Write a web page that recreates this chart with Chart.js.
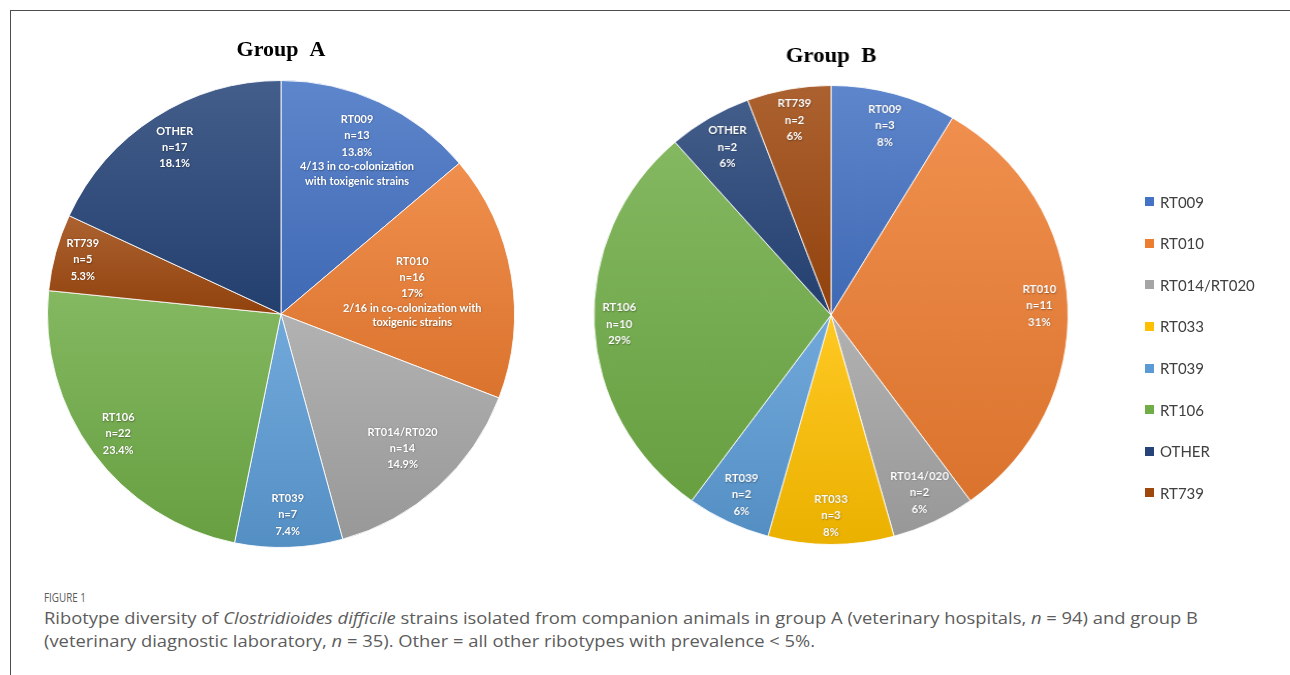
<!DOCTYPE html>
<html>
<head>
<meta charset="utf-8">
<title>Ribotype diversity</title>
<script src="https://cdn.jsdelivr.net/npm/chart.js@4.4.0/dist/chart.umd.min.js"></script>
<style>
    html, body { margin: 0; padding: 0; background: #fff; }
    body { width: 1290px; height: 675px; position: relative; overflow: hidden; font-family: Lato, sans-serif; }
    .frame { position: absolute; left: 10px; top: 10px; width: 1300px; height: 700px; border-left: 1px solid #4d4d4d; border-top: 1px solid #4d4d4d; }
    .chart-box { position: absolute; }
    #boxA { left: 31px; top: 26px; width: 500px; height: 522px; }
    /* the group B pie is a touch wider than tall in the figure */
    #boxB { left: 527px; top: 32px; width: 608px; height: 513px; transform: scaleX(1.033); transform-origin: 304px 50%; }
    #legend { position: absolute; left: 1145px; top: 181px; }
    .legend-item { height: 41.57px; display: flex; align-items: center; font-size: 15px; color: #404040; white-space: nowrap; }
    .legend-item span.sw { width: 9px; height: 9px; margin-right: 6px; display: inline-block; }
    .fig-label { position: absolute; left: 44px; top: 589px; font-family: "Open Sans", sans-serif; font-size: 12px; color: #5c5c5c; white-space: nowrap; transform-origin: left center; }
    .caption { position: absolute; left: 44px; top: 606px; font-family: "Open Sans", sans-serif; font-size: 17px; line-height: 23px; color: #5c5c5c; }
    .caption span { display: inline-block; white-space: nowrap; transform-origin: left center; }
</style>
</head>
<body>
<div class="frame"></div>
<div class="chart-box" id="boxA"><canvas id="chartA"></canvas></div>
<div class="chart-box" id="boxB"><canvas id="chartB"></canvas></div>
<div id="legend"></div>
<div class="fig-label" id="figLabel">FIGURE 1</div>
<div class="caption">
    <span id="cap1">Ribotype diversity of <i>Clostridioides difficile</i> strains isolated from companion animals in group A (veterinary hospitals, <i>n</i> = 94) and group B</span><br>
    <span id="cap2">(veterinary diagnostic laboratory, <i>n</i> = 35). Other = all other ribotypes with prevalence &lt; 5%.</span>
</div>
<script>
// ============================================
// DATA
// ============================================

// legend order (all ribotypes)
const legendLabels = ['RT009', 'RT010', 'RT014/RT020', 'RT033', 'RT039', 'RT106', 'OTHER', 'RT739'];

// Group A - veterinary hospitals (n = 94), clockwise from 12 o'clock
const groupALabels = ['RT009', 'RT010', 'RT014/RT020', 'RT039', 'RT106', 'RT739', 'OTHER'];
const groupACounts = [13, 16, 14, 7, 22, 5, 17];
const groupAPercents = ['13.8%', '17%', '14.9%', '7.4%', '23.4%', '5.3%', '18.1%'];
const groupANotes = [
    ['4/13 in co-colonization', 'with toxigenic strains'],
    ['2/16 in co-colonization with', 'toxigenic strains'],
    [], [], [], [], []
];

// Group B - veterinary diagnostic laboratory (n = 35)
const groupBLabels = ['RT009', 'RT010', 'RT014/RT020', 'RT033', 'RT039', 'RT106', 'OTHER', 'RT739'];
const groupBSliceNames = ['RT009', 'RT010', 'RT014/020', 'RT033', 'RT039', 'RT106', 'OTHER', 'RT739'];
const groupBCounts = [3, 11, 2, 3, 2, 10, 2, 2];
const groupBPercents = ['8%', '31%', '6%', '8%', '6%', '29%', '6%', '6%'];

// ============================================
// STYLE
// ============================================

const ribotypeColors = {
    'RT009': '#4472C4',
    'RT010': '#ED7D31',
    'RT014/RT020': '#A5A5A5',
    'RT033': '#FFC000',
    'RT039': '#5B9BD5',
    'RT106': '#70AD47',
    'OTHER': '#264478',
    'RT739': '#9E480E'
};

// how far out (fraction of radius) each slice label sits
const labelRadiusA = [0.773, 0.57, 0.776, 0.86, 0.866, 0.88, 0.846];
const labelRadiusB = [0.855, 0.88, 0.86, 0.874, 0.87, 0.894, 0.852, 0.862];

function shade(hex, amt) {
    const n = parseInt(hex.slice(1), 16);
    let r = (n >> 16) & 255, g = (n >> 8) & 255, b = n & 255;
    const t = amt > 0 ? 255 : 0;
    const p = Math.abs(amt);
    r = Math.round(r + (t - r) * p);
    g = Math.round(g + (t - g) * p);
    b = Math.round(b + (t - b) * p);
    return `rgb(${r}, ${g}, ${b})`;
}

/**
 * Vertical gradient over each slice's own bounding box (Office style fill)
 */
function sliceFill(values, labels) {
    return (context) => {
        const chart = context.chart;
        const area = chart.chartArea;
        const base = ribotypeColors[labels[context.dataIndex]];
        if (!area) return base;

        const cx = (area.left + area.right) / 2;
        const cy = (area.top + area.bottom) / 2;
        const r = Math.min(area.right - area.left, area.bottom - area.top) / 2;
        const total = values.reduce((s, v) => s + v, 0);

        let start = -Math.PI / 2;
        for (let i = 0; i < context.dataIndex; i++) start += values[i] / total * Math.PI * 2;
        const end = start + values[context.dataIndex] / total * Math.PI * 2;

        const ys = [cy, cy + r * Math.sin(start), cy + r * Math.sin(end)];
        if (start <= Math.PI / 2 && end >= Math.PI / 2) ys.push(cy + r);
        if (start <= -Math.PI / 2 + 1e-6 || end >= Math.PI * 1.5) ys.push(cy - r);
        const top = Math.min(...ys);
        const bottom = Math.max(...ys);

        const grad = chart.ctx.createLinearGradient(0, top, 0, bottom);
        grad.addColorStop(0, shade(base, 0.14));
        grad.addColorStop(1, shade(base, -0.08));
        return grad;
    };
}

// white multi-line labels inside the slices
const sliceLabelPlugin = {
    id: 'sliceLabels',
    afterDatasetsDraw(chart, args, opts) {
        const meta = chart.getDatasetMeta(0);
        const ctx = chart.ctx;
        const mainGap = 16.4;
        const noteGap = 14.5;
        ctx.save();
        ctx.fillStyle = '#ffffff';
        ctx.textAlign = 'center';
        ctx.textBaseline = 'middle';
        ctx.font = 'bold 11px Lato, sans-serif';
        ctx.shadowColor = 'rgba(0, 0, 0, 0.35)';
        ctx.shadowBlur = 1.5;
        ctx.shadowOffsetX = 0.5;
        ctx.shadowOffsetY = 0.5;

        meta.data.forEach((arc, i) => {
            const p = arc.getProps(['x', 'y', 'startAngle', 'endAngle', 'outerRadius'], true);
            const mid = (p.startAngle + p.endAngle) / 2;
            const dist = p.outerRadius * opts.radius[i];
            const lx = p.x + Math.cos(mid) * dist;
            const ly = p.y + Math.sin(mid) * dist;
            const lines = opts.lines[i];

            // offsets of each line: first 3 lines (name, n, %) then smaller-gap notes
            const offs = [0];
            for (let k = 1; k < lines.length; k++) offs.push(offs[k - 1] + (k < 3 ? mainGap : noteGap));
            const shift = offs[offs.length - 1] / 2;
            lines.forEach((text, k) => ctx.fillText(text, lx, ly - shift + offs[k]));
        });
        ctx.restore();
    }
};

function buildLines(names, counts, percents, notes) {
    return names.map((name, i) => [name, 'n=' + counts[i], percents[i]].concat(notes ? notes[i] : []));
}

function pieConfig(title, labels, counts, lines, radius, titlePadding) {
    return {
        type: 'pie',
        data: {
            labels: labels,
            datasets: [{
                data: counts,
                backgroundColor: sliceFill(counts, labels),
                borderColor: 'rgba(255, 255, 255, 0.85)',
                borderWidth: 1
            }]
        },
        options: {
            responsive: true,
            maintainAspectRatio: false,
            animation: false,
            layout: { padding: 0 },
            plugins: {
                legend: { display: false },
                tooltip: { enabled: false },
                title: {
                    display: true,
                    text: title,
                    color: '#000',
                    font: { family: '"Liberation Serif", "Times New Roman", serif', size: 22, weight: 'bold' },
                    padding: titlePadding
                },
                sliceLabels: { lines: lines, radius: radius }
            }
        },
        plugins: [sliceLabelPlugin]
    };
}

new Chart(document.getElementById('chartA'), pieConfig(
    'Group  A', groupALabels, groupACounts,
    buildLines(groupALabels, groupACounts, groupAPercents, groupANotes),
    labelRadiusA, { top: 10.8, bottom: 16.8 }
));

new Chart(document.getElementById('chartB'), pieConfig(
    'Group  B', groupBLabels, groupBCounts,
    buildLines(groupBSliceNames, groupBCounts, groupBPercents, null),
    labelRadiusB, { top: 10.8, bottom: 15.8 }
));

// shared legend
const legendEl = document.getElementById('legend');
legendLabels.forEach(name => {
    const item = document.createElement('div');
    item.className = 'legend-item';
    item.innerHTML = `<span class="sw" style="background:${ribotypeColors[name]}"></span>${name}`;
    legendEl.appendChild(item);
});

// squeeze caption text to the width it has in the figure
function fitWidth(el, target) {
    const w = el.getBoundingClientRect().width;
    el.style.transform = `scaleX(${target / w})`;
    return target / w;
}
const k = fitWidth(document.getElementById('cap1'), 1154);
document.getElementById('cap2').style.transform = `scaleX(${k})`;
fitWidth(document.getElementById('figLabel'), 42);
</script>
</body>
</html>
